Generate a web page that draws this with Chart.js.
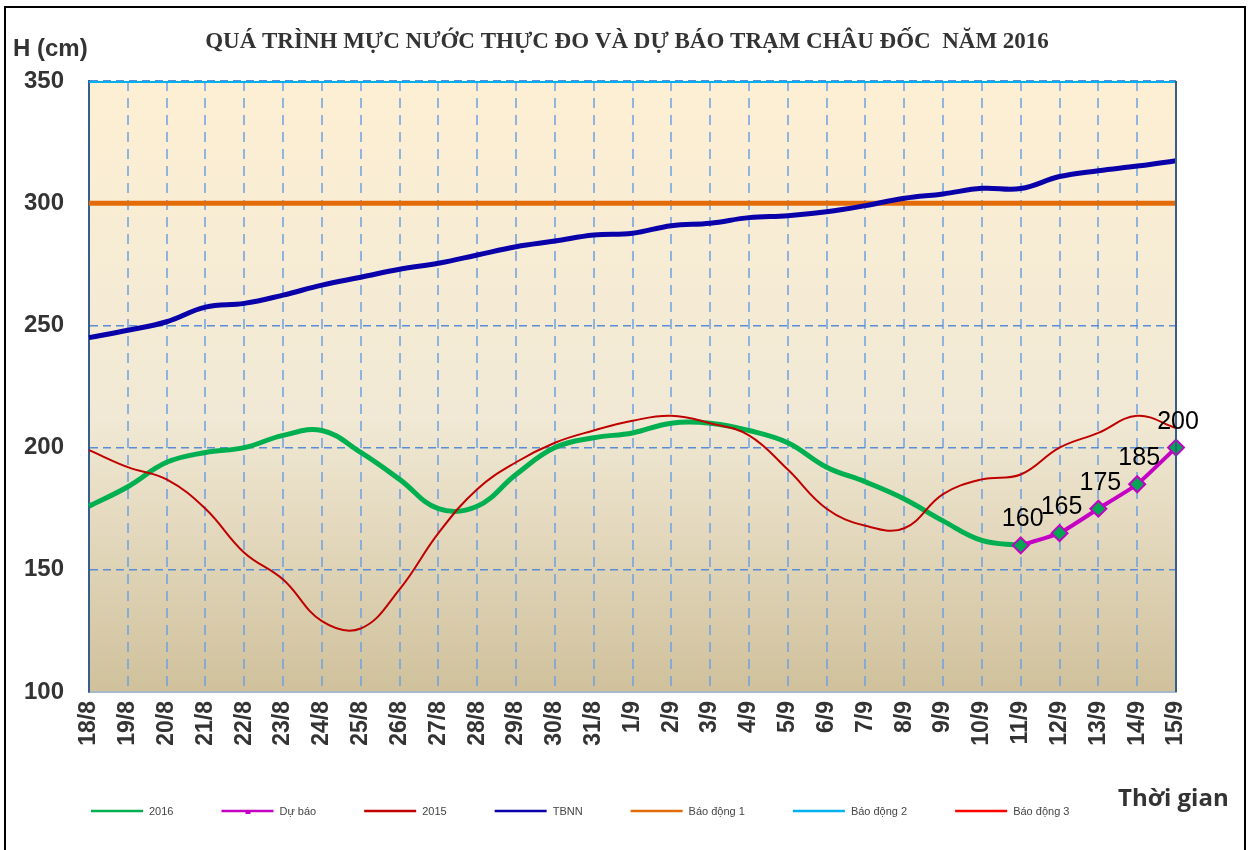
<!DOCTYPE html>
<html>
<head>
<meta charset="utf-8">
<script src="https://cdn.jsdelivr.net/npm/chart.js@4"></script>
<style>
  html, body { margin: 0; padding: 0; background: #fff; }
  #wrap { position: relative; width: 1253px; height: 850px; }
</style>
</head>
<body>
<div id="wrap"><canvas id="chart" width="1253" height="850"></canvas></div>
<script>
// ── data ──────────────────────────────────────────────
const days = ['18/8','19/8','20/8','21/8','22/8','23/8','24/8','25/8','26/8','27/8','28/8','29/8','30/8','31/8',
              '1/9','2/9','3/9','4/9','5/9','6/9','7/9','8/9','9/9','10/9','11/9','12/9','13/9','14/9','15/9'];

const h2016 = [176,184,194,198,200,205,207,198,187,175,176,189,200,204,206,210,210,207,202,192,186,179,170,162,160,null,null,null,null];
const forecast = [null,null,null,null,null,null,null,null,null,null,null,null,null,null,null,null,null,null,null,null,null,null,null,null,160,165,175,185,200];
const h2015 = [199,192,187,175,157,146,129,126,142,165,183,194,202,207,211,213,210,205,191,175,168,167,181,187,189,200,206,213,208];
const tbnn = [245,248,251.5,257.5,259,262.4,266.5,269.7,273,275.4,278.8,282.2,284.5,287,287.7,290.8,291.8,294.1,294.9,296.5,299,302,303.8,306.1,306,310.9,313.3,315.2,317.4];
const alarm1 = 300, alarm2 = 350, alarm3 = 400;
const yTicks = [100, 150, 200, 250, 300, 350];

const TITLE = 'QUÁ TRÌNH MỰC NƯỚC THỰC ĐO VÀ DỰ BÁO TRẠM CHÂU ĐỐC  NĂM 2016';

/* ════════════════════════════════════════════════
   plugins: background, frame, labels, legend
════════════════════════════════════════════════ */
const plotBg = {
    id: 'plotBg',
    beforeDraw(chart) {
        const { ctx, chartArea: a } = chart;
        const g = ctx.createLinearGradient(0, a.top, 0, a.bottom);
        g.addColorStop(0, '#fdefd3');
        g.addColorStop(0.55, '#f1e9d5');
        g.addColorStop(1, '#d0c19c');
        ctx.save();
        ctx.fillStyle = g;
        ctx.fillRect(a.left, a.top, a.right - a.left, a.bottom - a.top);
        ctx.restore();
    }
};

const extras = {
    id: 'extras',
    afterDraw(chart) {
        const { ctx, chartArea: a } = chart;
        ctx.save();
        // right plot edge
        ctx.strokeStyle = '#385d8a';
        ctx.lineWidth = 2;
        ctx.beginPath(); ctx.moveTo(a.right, a.top); ctx.lineTo(a.right, a.bottom); ctx.stroke();

        // outer frame
        ctx.strokeStyle = '#000';
        ctx.lineWidth = 2;
        ctx.beginPath();
        ctx.moveTo(5, 852); ctx.lineTo(5, 7); ctx.lineTo(1245, 7); ctx.lineTo(1245, 852);
        ctx.stroke();

        // title
        ctx.fillStyle = '#333';
        ctx.font = 'bold 23px "Liberation Serif", "Times New Roman", serif';
        ctx.textAlign = 'center';
        ctx.textBaseline = 'middle';
        ctx.fillText(TITLE, 627, 42);

        // axis captions
        ctx.font = 'bold 24px "Liberation Sans", Arial, sans-serif';
        ctx.textAlign = 'left';
        ctx.fillText('H (cm)', 13, 49);
        ctx.font = 'bold 24px "Open Sans", sans-serif';
        ctx.fillText('Thời gian', 1118, 799);

        // forecast value labels
        const meta = chart.getDatasetMeta(1);
        ctx.fillStyle = '#000';
        ctx.font = '25px "Liberation Sans", Arial, sans-serif';
        ctx.textAlign = 'center';
        ctx.textBaseline = 'alphabetic';
        meta.data.forEach((pt, i) => {
            if (forecast[i] == null) return;
            ctx.fillText(String(forecast[i]), pt.x + 2, pt.y - 19);
        });

        // legend
        const ds = chart.data.datasets;
        let x = 91;
        const y = 811;
        ctx.font = '11px "Liberation Sans", Arial, sans-serif';
        ctx.textAlign = 'left';
        ctx.textBaseline = 'middle';
        ds.forEach((d, i) => {
            ctx.strokeStyle = d.borderColor;
            ctx.lineWidth = 2.5;
            ctx.beginPath(); ctx.moveTo(x, y); ctx.lineTo(x + 52, y); ctx.stroke();
            if (i === 1) {
                ctx.fillStyle = d.borderColor;
                ctx.fillRect(x + 24, y - 1, 5, 4);
            }
            ctx.fillStyle = '#444';
            ctx.fillText(d.label, x + 58, y + 1);
            x += 58 + ctx.measureText(d.label).width + 48;
        });
        ctx.restore();
    }
};

const ctx = document.getElementById('chart').getContext('2d');
new Chart(ctx, {
    type: 'line',
    data: {
        labels: days,
        datasets: [
            { label: '2016', data: h2016, borderColor: '#00b050', borderWidth: 5, tension: 0.4, pointRadius: 0, order: 3 },
            { label: 'Dự báo', data: forecast, borderColor: '#c400c4', borderWidth: 4, tension: 0.15,
              pointStyle: 'rectRot', pointRadius: 8, pointBackgroundColor: '#00a651', pointBorderColor: '#c400c4', pointBorderWidth: 2, order: 0 },
            { label: '2015', data: h2015, borderColor: '#c00000', borderWidth: 2, tension: 0.4, pointRadius: 0, order: 2 },
            { label: 'TBNN', data: tbnn, borderColor: '#0a00aa', borderWidth: 5, tension: 0.4, pointRadius: 0, order: 4 },
            { label: 'Báo động 1', data: days.map(() => alarm1), borderColor: '#e36c09', borderWidth: 5, pointRadius: 0, order: 5 },
            { label: 'Báo động 2', data: days.map(() => alarm2), borderColor: '#00b0f0', borderWidth: 4, pointRadius: 0, order: 6 },
            { label: 'Báo động 3', data: days.map(() => alarm3), borderColor: '#ff0000', borderWidth: 2, pointRadius: 0, order: 7 }
        ]
    },
    options: {
        responsive: false,
        animation: false,
        spanGaps: false,
        layout: { padding: { left: 0, right: 77, top: 81, bottom: 0 } },
        plugins: {
            legend: { display: false },
            tooltip: { enabled: false },
            title: { display: false }
        },
        scales: {
            x: {
                offset: false,
                grid: { color: 'rgba(110,160,225,0.75)', lineWidth: 2, drawTicks: false },
                border: { display: true, color: '#a9b8c8', width: 2, dash: [10, 7] },
                ticks: { autoSkip: false, maxRotation: 90, minRotation: 90, padding: 9, color: '#333',
                         font: { family: '"Liberation Sans", Arial, sans-serif', size: 23, weight: 'bold' } },
                afterFit: s => { s.height = 158; }
            },
            y: {
                min: 100, max: 350,
                afterBuildTicks: s => { s.ticks = yTicks.map(v => ({ value: v })); },
                grid: { color: '#5b8cd6', lineWidth: 1.5, drawTicks: false },
                border: { display: true, color: '#385d8a', width: 2, dash: [8, 5] },
                ticks: { padding: 25, color: '#333',
                         font: { family: '"Liberation Sans", Arial, sans-serif', size: 24, weight: 'bold' } },
                afterFit: s => { s.width = 89; }
            }
        }
    },
    plugins: [plotBg, extras]
});
</script>
</body>
</html>
